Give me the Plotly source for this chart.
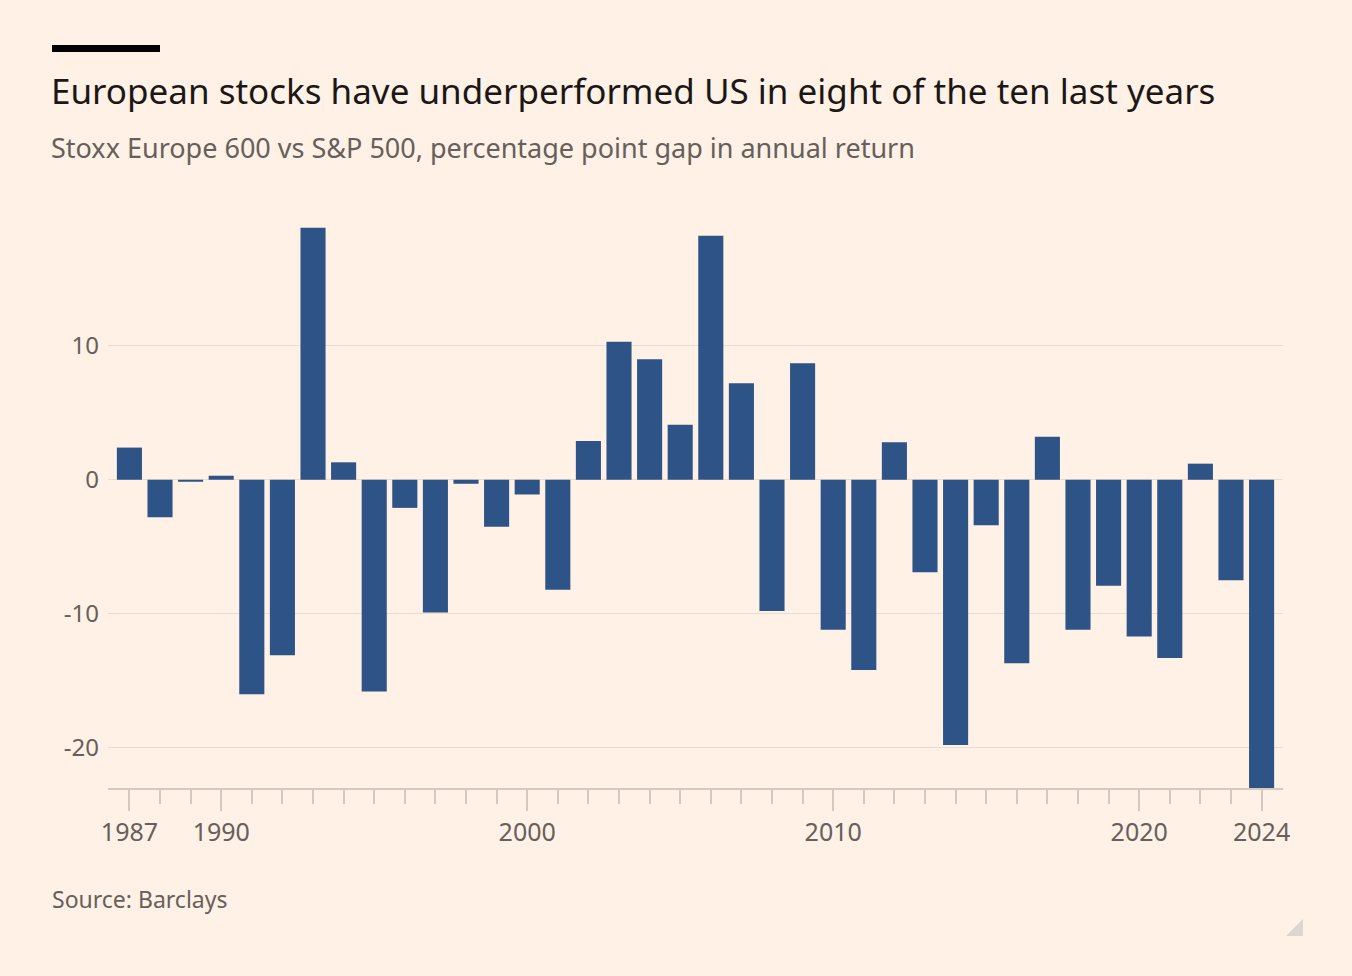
import plotly.graph_objects as go

years = list(range(1987, 2025))
gap = [2.4, -2.8, -0.15, 0.3, -16.0, -13.1, 18.8, 1.3, -15.8, -2.1,
       -9.9, -0.3, -3.5, -1.1, -8.2, 2.9, 10.3, 9.0, 4.1, 18.2,
       7.2, -9.8, 8.7, -11.2, -14.2, 2.8, -6.9, -19.8, -3.4, -13.7,
       3.2, -11.2, -7.9, -11.7, -13.3, 1.2, -7.5, -23.0]
x_tickvals = [1987, 1990, 2000, 2010, 2020, 2024]
y_tickvals = [-20, -10, 0, 10]
y_ticktext = ["-20", "-10", "0", "10"]

W, H = 1352, 976
L, R, T, B = 108, 1283, 205, 788
BG = "#fff1e5"
FONT = "Noto Sans"

def px(x):
    return (x - L) / (R - L)

def py(y):
    return (B - y) / (B - T)

fig = go.Figure(go.Bar(
    x=years, y=gap, marker=dict(color="#2e5386", line=dict(width=0)),
    hoverinfo="x+y"))

fig.update_layout(
    width=W, height=H, paper_bgcolor=BG, plot_bgcolor=BG,
    margin=dict(l=L, r=W - R, t=T, b=H - B, pad=0),
    bargap=0.18, showlegend=False,
    font=dict(family=FONT, color="#66605c", size=24),
    xaxis=dict(range=[1986.3, 2024.7], tickvals=x_tickvals, ticks="outside",
               ticklen=21, tickcolor="#d4c8bf", tickwidth=1.5,
               minor=dict(tick0=1987, dtick=1, ticks="outside", ticklen=14,
                          tickcolor="#d4c8bf", tickwidth=1.5),
               showline=True, linecolor="#d4c8bf", linewidth=1.5,
               showgrid=False, zeroline=False, tickfont=dict(size=25)),
    yaxis=dict(range=[-23.0, 20.5], tickvals=y_tickvals, ticktext=y_ticktext,
               showgrid=True, gridcolor="#e9ddd3", gridwidth=1, zeroline=True,
               zerolinecolor="#e9ddd3", zerolinewidth=1, ticks="",
               ticklabelstandoff=8, tickfont=dict(size=24)),
)

fig.add_shape(type="rect", xref="paper", yref="paper",
              x0=px(52), x1=px(160), y0=py(52), y1=py(45),
              fillcolor="#000000", line=dict(width=0), layer="above")
fig.add_shape(type="path", xref="paper", yref="paper",
              path=f"M {px(1286)} {py(936)} L {px(1303)} {py(936)} L {px(1303)} {py(919)} Z",
              fillcolor="#dcd6d1", line=dict(width=0))

fig.add_annotation(text="European stocks have underperformed US in eight of the ten last years",
                   xref="paper", yref="paper", x=px(49), y=py(90), xanchor="left",
                   yanchor="middle", showarrow=False,
                   font=dict(family=FONT, size=35, color="#1a1817"))
fig.add_annotation(text="Stoxx Europe 600 vs S&P 500, percentage point gap in annual return",
                   xref="paper", yref="paper", x=px(49), y=py(147), xanchor="left",
                   yanchor="middle", showarrow=False,
                   font=dict(family=FONT, size=27, color="#66605c"))
fig.add_annotation(text="Source: Barclays",
                   xref="paper", yref="paper", x=px(50), y=py(899), xanchor="left",
                   yanchor="middle", showarrow=False,
                   font=dict(family=FONT, size=23, color="#66605c"))

fig.write_html("out.html")
